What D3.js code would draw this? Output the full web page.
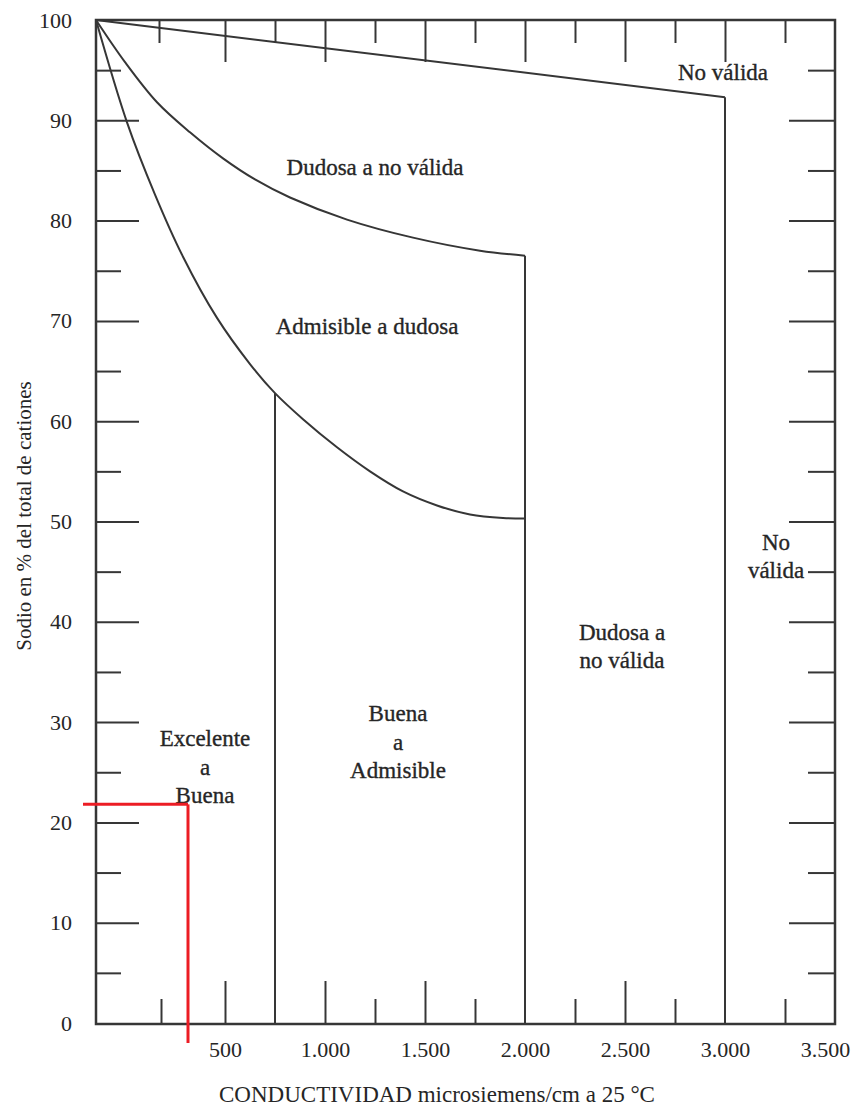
<!DOCTYPE html>
<html>
<head>
<meta charset="utf-8">
<script src="https://cdn.jsdelivr.net/npm/d3@7"></script>
<style>
  body { margin: 0; background: #fff; }
  svg text { font-family: "Liberation Serif", "DejaVu Serif", serif; fill: #262626; }
</style>
</head>
<body>
<div id="chart"></div>
<script>
// Diagrama de Wilcox: sodio (%) frente a conductividad

// y ticks (% sodio)
const yLabelTicks = [0, 10, 20, 30, 40, 50, 60, 70, 80, 90, 100];
const yMajorTicks = [10, 20, 30, 40, 50, 60, 70, 80, 90];
const yMinorTicks = [5, 15, 25, 35, 45, 55, 65, 75, 85, 95];

// x ticks (microsiemens/cm)
const xLabelTicks = [500, 1000, 1500, 2000, 2500, 3000, 3500];
const bottomMajorTicks = [500, 1000, 1500, 2500];
const bottomMinorTicks = [180, 1250, 1750, 2250, 2750, 3300];
const topMajorTicks = [500, 1000, 1500, 2000, 2500, 3000];
const topMinorTicks = [170, 750, 1250, 1750, 2250, 2750, 3300];

// limit curves [conductividad, % sodio]
const lineNoValida = [[-145, 100], [3000, 92.3]];
const curveDudosa = [
  [-145, 100], [0, 95.8], [160, 91.8], [325, 88.8], [490, 86.2], [650, 84.1],
  [825, 82.3], [1110, 80.1], [1440, 78.3], [1775, 77.0], [2000, 76.5]
];
const curveAdmisible = [
  [-145, 100], [10, 89.8], [150, 82.6], [290, 76.4], [460, 70.3], [625, 65.7],
  [750, 62.8], [890, 60.2], [1060, 57.4], [1225, 55.0], [1390, 53.0],
  [1560, 51.6], [1725, 50.7], [1890, 50.35], [2000, 50.3]
];

// vertical limits: conductividad, top % sodio
const boundaryX = [750, 2000, 3000];
const boundaryTop = [62.8, 76.5, 92.3];

// region names
const regionNames = [
  ["No válida"],
  ["Dudosa a no válida"],
  ["Admisible a dudosa"],
  ["No", "válida"],
  ["Dudosa a", "no válida"],
  ["Buena", "a", "Admisible"],
  ["Excelente", "a", "Buena"]
];
const regionX = [2990, 1250, 1210, 3255, 2485, 1365, 400];
const regionY = [94.0, 84.5, 68.7, 47.2, 38.2, 30.1, 27.6];

// sample point marked in red
const sampleX = [315];
const sampleY = [21.8];

const width = 852, height = 1106;
const mLeft = 96, mRight = 835, mTop = 20, mBottom = 1023;

const svg = d3.select("#chart").append("svg")
  .attr("width", width)
  .attr("height", height);

const x = d3.scaleLinear().domain([-145, 3550]).range([mLeft, mRight]);
const y = d3.scaleLinear().domain([0, 100]).range([mBottom, mTop]);

const ink = "#363636";
const es = d3.formatLocale({ decimal: ",", thousands: ".", grouping: [3], currency: ["", ""] });
const fmt = es.format(",");

// tick helper: draw an axis with ticks only
function ticksOnly(axis, values, size, transform) {
  const g = svg.append("g")
    .attr("transform", transform)
    .call(axis.tickValues(values).tickSize(size).tickFormat(""));
  g.select(".domain").remove();
  g.selectAll(".tick line").attr("stroke", ink).attr("stroke-width", 2);
  return g;
}

ticksOnly(d3.axisRight(y), yMajorTicks, 43, `translate(${mLeft},0)`);
ticksOnly(d3.axisRight(y), yMinorTicks, 25, `translate(${mLeft},0)`);
ticksOnly(d3.axisLeft(y), yMajorTicks, 46, `translate(${mRight},0)`);
ticksOnly(d3.axisLeft(y), yMinorTicks, 27, `translate(${mRight},0)`);
ticksOnly(d3.axisTop(x), bottomMajorTicks, 43, `translate(0,${mBottom + 1})`);
ticksOnly(d3.axisTop(x), bottomMinorTicks, 25, `translate(0,${mBottom + 1})`);
ticksOnly(d3.axisBottom(x), topMajorTicks, 42, `translate(0,${mTop})`);
ticksOnly(d3.axisBottom(x), topMinorTicks, 23, `translate(0,${mTop})`);

// tick labels
const yAxis = svg.append("g")
  .attr("transform", `translate(${mLeft},0)`)
  .call(d3.axisLeft(y).tickValues(yLabelTicks).tickSize(0).tickPadding(24));
yAxis.select(".domain").remove();
yAxis.selectAll("text")
  .attr("font-size", 22).attr("font-family", "Liberation Serif").attr("fill", "#262626");

const xAxis = svg.append("g")
  .attr("transform", `translate(0,${mBottom + 1})`)
  .call(d3.axisBottom(x).tickValues(xLabelTicks).tickSize(0).tickPadding(17).tickFormat(fmt));
xAxis.select(".domain").remove();
xAxis.selectAll("text")
  .attr("font-size", 22).attr("font-family", "Liberation Serif").attr("fill", "#262626");

// frame
svg.append("rect")
  .attr("x", mLeft).attr("y", mTop)
  .attr("width", mRight - mLeft).attr("height", mBottom + 1 - mTop)
  .attr("fill", "none").attr("stroke", ink).attr("stroke-width", 2.5);

// limit lines
const line = d3.line().x(d => x(d[0])).y(d => y(d[1])).curve(d3.curveCatmullRom.alpha(0.5));
[lineNoValida, curveDudosa, curveAdmisible].forEach(pts => {
  svg.append("path")
    .attr("d", line(pts))
    .attr("fill", "none").attr("stroke", ink).attr("stroke-width", 2);
});

svg.selectAll(".boundary")
  .data(boundaryX)
  .join("line")
  .attr("class", "boundary")
  .attr("x1", d => x(d)).attr("x2", d => x(d))
  .attr("y1", (d, i) => y(boundaryTop[i])).attr("y2", y(0) + 1)
  .attr("stroke", ink).attr("stroke-width", 2);

// region names
regionNames.forEach((lines, i) => {
  const t = svg.append("text")
    .attr("x", x(regionX[i]))
    .attr("y", y(regionY[i]))
    .attr("text-anchor", "middle")
    .attr("font-size", 23)
    .attr("stroke", "#262626")
    .attr("stroke-width", 0.35);
  lines.forEach((s, j) => {
    t.append("tspan")
      .attr("x", x(regionX[i]))
      .attr("dy", j === 0 ? 0 : 28.5)
      .text(s);
  });
});

// axis titles
svg.append("text")
  .attr("x", 437).attr("y", 1102)
  .attr("text-anchor", "middle")
  .attr("font-size", 23)
  .text("CONDUCTIVIDAD microsiemens/cm a 25 °C");

svg.append("text")
  .attr("transform", "translate(31,516) rotate(-90)")
  .attr("text-anchor", "middle")
  .attr("font-size", 21)
  .text("Sodio en % del total de cationes");

// red marker lines
sampleX.forEach((sx, i) => {
  svg.append("line")
    .attr("x1", mLeft - 13).attr("x2", x(sx))
    .attr("y1", y(sampleY[i])).attr("y2", y(sampleY[i]))
    .attr("stroke", "#ec1c24").attr("stroke-width", 3);
  svg.append("line")
    .attr("x1", x(sx)).attr("x2", x(sx))
    .attr("y1", y(sampleY[i])).attr("y2", mBottom + 20)
    .attr("stroke", "#ec1c24").attr("stroke-width", 3);
});
</script>
</body>
</html>
